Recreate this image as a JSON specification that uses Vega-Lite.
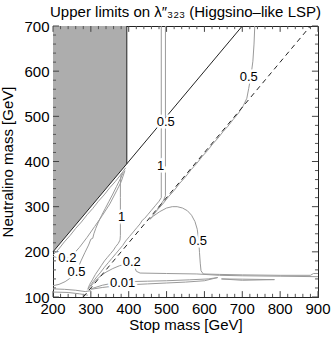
{
"$schema": "https://vega.github.io/schema/vega-lite/v6.json",
"width": 265, "height": 271,
"autosize": {"type": "none"},
"padding": {"left": 53, "top": 26, "right": 14, "bottom": 42},
"title": {"text": "Upper limits on λ″₃₂₃ (Higgsino–like LSP)", "font": "Liberation Sans", "fontSize": 15, "fontWeight": "normal", "color": "#000", "offset": -1, "anchor": "middle"},
"datasets": {
"region": [{"x": 200, "lo": 200, "hi": 700}, {"x": 395, "lo": 395, "hi": 700}],
"xmaj": [{"v":200},{"v":300},{"v":400},{"v":500},{"v":600},{"v":700},{"v":800},{"v":900}],
"xmin": [{"v":220},{"v":240},{"v":260},{"v":280},{"v":320},{"v":340},{"v":360},{"v":380},{"v":420},{"v":440},{"v":460},{"v":480},{"v":520},{"v":540},{"v":560},{"v":580},{"v":620},{"v":640},{"v":660},{"v":680},{"v":720},{"v":740},{"v":760},{"v":780},{"v":820},{"v":840},{"v":860},{"v":880}],
"ymaj": [{"v":100},{"v":200},{"v":300},{"v":400},{"v":500},{"v":600},{"v":700}],
"ymin": [{"v":120},{"v":140},{"v":160},{"v":180},{"v":220},{"v":240},{"v":260},{"v":280},{"v":320},{"v":340},{"v":360},{"v":380},{"v":420},{"v":440},{"v":460},{"v":480},{"v":520},{"v":540},{"v":560},{"v":580},{"v":620},{"v":640},{"v":660},{"v":680}],
"black": [
{"c": "diag", "o": 1, "x": 200, "y": 200}, {"c": "diag", "o": 2, "x": 700, "y": 700},
{"c": "edge", "o": 1, "x": 395, "y": 395}, {"c": "edge", "o": 2, "x": 395, "y": 700}
],
"dashed": [{"c": "d", "o": 1, "x": 280, "y": 100}, {"c": "d", "o": 2, "x": 880, "y": 700}],
"contours": [
{"c":"c05R","o":1,"x":733,"y":700},{"c":"c05R","o":2,"x":731,"y":660},{"c":"c05R","o":3,"x":728,"y":622},{"c":"c05R","o":4,"x":723,"y":590},{"c":"c05R","o":5,"x":717,"y":562},{"c":"c05R","o":6,"x":712,"y":540},{"c":"c05R","o":7,"x":703,"y":524},{"c":"c05R","o":8,"x":690,"y":507},{"c":"c05R","o":9,"x":676,"y":493},{"c":"c05R","o":10,"x":662,"y":478},{"c":"c05R","o":11,"x":650,"y":467},{"c":"c05R","o":12,"x":636,"y":452},{"c":"c05R","o":13,"x":622,"y":439},{"c":"c05R","o":14,"x":608,"y":424},{"c":"c05R","o":15,"x":594,"y":411},{"c":"c05R","o":16,"x":580,"y":396},{"c":"c05R","o":17,"x":565,"y":382},{"c":"c05R","o":18,"x":550,"y":366},{"c":"c05R","o":19,"x":535,"y":352},{"c":"c05R","o":20,"x":520,"y":336},{"c":"c05R","o":21,"x":505,"y":322},{"c":"c05R","o":22,"x":490,"y":306},{"c":"c05R","o":23,"x":475,"y":292},{"c":"c05R","o":24,"x":462,"y":278},{"c":"c05R","o":25,"x":456,"y":272},{"c":"c05R","o":26,"x":465,"y":279},{"c":"c05R","o":27,"x":482,"y":289},{"c":"c05R","o":28,"x":500,"y":297},{"c":"c05R","o":29,"x":515,"y":300},{"c":"c05R","o":30,"x":528,"y":300},{"c":"c05R","o":31,"x":542,"y":297},{"c":"c05R","o":32,"x":555,"y":291},{"c":"c05R","o":33,"x":566,"y":281},{"c":"c05R","o":34,"x":575,"y":267},{"c":"c05R","o":35,"x":581,"y":250},{"c":"c05R","o":36,"x":585,"y":225},{"c":"c05R","o":37,"x":587,"y":198},{"c":"c05R","o":38,"x":589,"y":175},{"c":"c05R","o":39,"x":591,"y":158},{"c":"c05R","o":40,"x":597,"y":151},{"c":"c05R","o":41,"x":640,"y":150},{"c":"c05R","o":42,"x":700,"y":149},{"c":"c05R","o":43,"x":800,"y":148},{"c":"c05R","o":44,"x":880,"y":148},{"c":"c05R","o":45,"x":888,"y":152},{"c":"c05R","o":46,"x":900,"y":152},
{"c":"c1V","o":1,"x":486,"y":700},{"c":"c1V","o":2,"x":486,"y":320},{"c":"c1V","o":3,"x":480,"y":312},{"c":"c1V","o":4,"x":470,"y":302},{"c":"c1V","o":5,"x":460,"y":292},{"c":"c1V","o":6,"x":450,"y":282},{"c":"c1V","o":7,"x":442,"y":274},{"c":"c1V","o":8,"x":436,"y":270},{"c":"c1V","o":9,"x":430,"y":262},{"c":"c1V","o":10,"x":422,"y":254},{"c":"c1V","o":11,"x":412,"y":244},{"c":"c1V","o":12,"x":402,"y":234},{"c":"c1V","o":13,"x":392,"y":224},{"c":"c1V","o":14,"x":384,"y":214},{"c":"c1V","o":15,"x":376,"y":206},{"c":"c1V","o":16,"x":366,"y":196},{"c":"c1V","o":17,"x":356,"y":186},{"c":"c1V","o":18,"x":346,"y":176},{"c":"c1V","o":19,"x":336,"y":166},{"c":"c1V","o":20,"x":326,"y":155},{"c":"c1V","o":21,"x":316,"y":145},{"c":"c1V","o":22,"x":306,"y":134},{"c":"c1V","o":23,"x":298,"y":124},{"c":"c1V","o":24,"x":292,"y":116},
{"c":"c05V","o":1,"x":497,"y":700},{"c":"c05V","o":2,"x":497,"y":324},{"c":"c05V","o":3,"x":492,"y":314},{"c":"c05V","o":4,"x":485,"y":305},{"c":"c05V","o":5,"x":475,"y":294},
{"c":"c1L","o":1,"x":380,"y":373},{"c":"c1L","o":2,"x":378,"y":352},{"c":"c1L","o":3,"x":378,"y":320},{"c":"c1L","o":4,"x":378,"y":290},{"c":"c1L","o":5,"x":378,"y":260},{"c":"c1L","o":6,"x":378,"y":236},{"c":"c1L","o":7,"x":377,"y":226},{"c":"c1L","o":8,"x":372,"y":218},{"c":"c1L","o":9,"x":366,"y":212},{"c":"c1L","o":10,"x":360,"y":204},{"c":"c1L","o":11,"x":352,"y":196},{"c":"c1L","o":12,"x":344,"y":188},{"c":"c1L","o":13,"x":336,"y":180},{"c":"c1L","o":14,"x":328,"y":170},{"c":"c1L","o":15,"x":320,"y":160},{"c":"c1L","o":16,"x":312,"y":150},{"c":"c1L","o":17,"x":304,"y":138},{"c":"c1L","o":18,"x":297,"y":128},{"c":"c1L","o":19,"x":292,"y":118},
{"c":"c05L","o":1,"x":386,"y":376},{"c":"c05L","o":2,"x":378,"y":362},{"c":"c05L","o":3,"x":368,"y":345},{"c":"c05L","o":4,"x":358,"y":328},{"c":"c05L","o":5,"x":348,"y":312},{"c":"c05L","o":6,"x":338,"y":296},{"c":"c05L","o":7,"x":328,"y":280},{"c":"c05L","o":8,"x":320,"y":266},{"c":"c05L","o":9,"x":313,"y":252},{"c":"c05L","o":10,"x":308,"y":240},{"c":"c05L","o":11,"x":305,"y":230},{"c":"c05L","o":12,"x":300,"y":228},{"c":"c05L","o":13,"x":294,"y":215},{"c":"c05L","o":14,"x":284,"y":198},{"c":"c05L","o":15,"x":274,"y":180},{"c":"c05L","o":16,"x":266,"y":164},{"c":"c05L","o":17,"x":258,"y":152},{"c":"c05L","o":18,"x":246,"y":142},{"c":"c05L","o":19,"x":232,"y":134},{"c":"c05L","o":20,"x":216,"y":128},{"c":"c05L","o":21,"x":200,"y":125},
{"c":"c02L","o":1,"x":200,"y":190},{"c":"c02L","o":2,"x":215,"y":186},{"c":"c02L","o":3,"x":238,"y":187},{"c":"c02L","o":4,"x":255,"y":196},{"c":"c02L","o":5,"x":270,"y":210},{"c":"c02L","o":6,"x":290,"y":232},{"c":"c02L","o":7,"x":310,"y":256},{"c":"c02L","o":8,"x":330,"y":280},{"c":"c02L","o":9,"x":350,"y":306},{"c":"c02L","o":10,"x":368,"y":335},{"c":"c02L","o":11,"x":380,"y":355},{"c":"c02L","o":12,"x":390,"y":380},
{"c":"edge","o":1,"x":200,"y":193},{"c":"edge","o":2,"x":215,"y":206},{"c":"edge","o":3,"x":230,"y":222},{"c":"edge","o":4,"x":245,"y":236},{"c":"edge","o":5,"x":260,"y":252},{"c":"edge","o":6,"x":275,"y":266},{"c":"edge","o":7,"x":290,"y":282},{"c":"edge","o":8,"x":305,"y":296},{"c":"edge","o":9,"x":320,"y":312},{"c":"edge","o":10,"x":335,"y":326},{"c":"edge","o":11,"x":350,"y":342},{"c":"edge","o":12,"x":365,"y":356},{"c":"edge","o":13,"x":380,"y":372},{"c":"edge","o":14,"x":392,"y":386},
{"c":"c02B","o":1,"x":300,"y":124},{"c":"c02B","o":2,"x":312,"y":136},{"c":"c02B","o":3,"x":325,"y":146},{"c":"c02B","o":4,"x":340,"y":155},{"c":"c02B","o":5,"x":358,"y":163},{"c":"c02B","o":6,"x":375,"y":169},{"c":"c02B","o":7,"x":392,"y":173},{"c":"c02B","o":8,"x":405,"y":175},{"c":"c02B","o":9,"x":412,"y":174},{"c":"c02B","o":10,"x":416,"y":166},{"c":"c02B","o":11,"x":420,"y":157},{"c":"c02B","o":12,"x":430,"y":153},{"c":"c02B","o":13,"x":500,"y":152},{"c":"c02B","o":14,"x":580,"y":151},{"c":"c02B","o":15,"x":640,"y":148},{"c":"c02B","o":16,"x":700,"y":147},{"c":"c02B","o":17,"x":800,"y":146},{"c":"c02B","o":18,"x":900,"y":145},
{"c":"c001","o":1,"x":300,"y":118},{"c":"c001","o":2,"x":330,"y":126},{"c":"c001","o":3,"x":360,"y":131},{"c":"c001","o":4,"x":400,"y":134},{"c":"c001","o":5,"x":450,"y":135},{"c":"c001","o":6,"x":500,"y":136},{"c":"c001","o":7,"x":560,"y":138},{"c":"c001","o":8,"x":610,"y":140},{"c":"c001","o":9,"x":635,"y":143},{"c":"c001","o":10,"x":600,"y":136},{"c":"c001","o":11,"x":550,"y":133},{"c":"c001","o":12,"x":500,"y":131},{"c":"c001","o":13,"x":450,"y":129},{"c":"c001","o":14,"x":400,"y":127},{"c":"c001","o":15,"x":360,"y":124},{"c":"c001","o":16,"x":330,"y":121},{"c":"c001","o":17,"x":300,"y":117},
{"c":"w2","o":1,"x":645,"y":140},{"c":"w2","o":2,"x":700,"y":139.5},{"c":"w2","o":3,"x":785,"y":138.5},{"c":"w2","o":4,"x":700,"y":137},{"c":"w2","o":5,"x":645,"y":140},
{"c":"b2","o":1,"x":200,"y":118},{"c":"b2","o":2,"x":230,"y":117},{"c":"b2","o":3,"x":260,"y":115},{"c":"b2","o":4,"x":285,"y":112},{"c":"b2","o":5,"x":300,"y":114},
{"c":"b3","o":1,"x":200,"y":111},{"c":"b3","o":2,"x":240,"y":110},{"c":"b3","o":3,"x":270,"y":107},{"c":"b3","o":4,"x":292,"y":104}
],
"labels": [
{"t":"0.5","x":498,"y":488},{"t":"1","x":484,"y":390},{"t":"0.5","x":717,"y":588},{"t":"1","x":381,"y":277},{"t":"0.2","x":238,"y":187},{"t":"0.5","x":262,"y":156},{"t":"0.2","x":408,"y":178},{"t":"0.01","x":384,"y":131},{"t":"0.5","x":583,"y":224}
]
},
"layer": [
{"data": {"name": "region"}, "mark": {"type": "area", "color": "#adadad", "opacity": 1},
 "encoding": {
  "x": {"field": "x", "type": "quantitative", "scale": {"domain": [200, 900], "nice": false, "zero": false},
    "axis": {"title": "Stop mass [GeV]", "values": [200,300,400,500,600,700,800,900], "ticks": false, "labels": false, "titlePadding": 20}},
  "y": {"field": "lo", "type": "quantitative", "scale": {"domain": [100, 700], "nice": false, "zero": false},
    "axis": {"title": "Neutralino mass [GeV]", "values": [100,200,300,400,500,600,700], "ticks": false, "labelOverlap": false, "labelFlush": false, "labelPadding": 4, "titlePadding": 8}},
  "y2": {"field": "hi"}
 }},
{"data": {"name": "xmaj"}, "mark": {"type": "text", "font": "Liberation Sans", "fontSize": 15, "color": "#000", "baseline": "top", "align": "center", "dy": 5},
 "encoding": {"x": {"field": "v", "type": "quantitative"}, "y": {"datum": 100}, "text": {"field": "v", "type": "quantitative"}}},
{"data": {"name": "xmaj"}, "mark": {"type": "rule", "color": "#444", "strokeWidth": 1}, "encoding": {"x": {"field": "v", "type": "quantitative"}, "y": {"datum": 100}, "y2": {"datum": 113}}},
{"data": {"name": "xmaj"}, "mark": {"type": "rule", "color": "#444", "strokeWidth": 1}, "encoding": {"x": {"field": "v", "type": "quantitative"}, "y": {"datum": 700}, "y2": {"datum": 687}}},
{"data": {"name": "xmin"}, "mark": {"type": "rule", "color": "#555", "strokeWidth": 1}, "encoding": {"x": {"field": "v", "type": "quantitative"}, "y": {"datum": 100}, "y2": {"datum": 107}}},
{"data": {"name": "xmin"}, "mark": {"type": "rule", "color": "#555", "strokeWidth": 1}, "encoding": {"x": {"field": "v", "type": "quantitative"}, "y": {"datum": 700}, "y2": {"datum": 693}}},
{"data": {"name": "ymaj"}, "mark": {"type": "rule", "color": "#444", "strokeWidth": 1}, "encoding": {"y": {"field": "v", "type": "quantitative"}, "x": {"datum": 200}, "x2": {"datum": 216}}},
{"data": {"name": "ymaj"}, "mark": {"type": "rule", "color": "#444", "strokeWidth": 1}, "encoding": {"y": {"field": "v", "type": "quantitative"}, "x": {"datum": 900}, "x2": {"datum": 884}}},
{"data": {"name": "ymin"}, "mark": {"type": "rule", "color": "#555", "strokeWidth": 1}, "encoding": {"y": {"field": "v", "type": "quantitative"}, "x": {"datum": 200}, "x2": {"datum": 208}}},
{"data": {"name": "ymin"}, "mark": {"type": "rule", "color": "#555", "strokeWidth": 1}, "encoding": {"y": {"field": "v", "type": "quantitative"}, "x": {"datum": 900}, "x2": {"datum": 892}}},
{"data": {"name": "contours"}, "mark": {"type": "line", "color": "#9a9a9a", "strokeWidth": 1},
 "encoding": {"x": {"field": "x", "type": "quantitative"}, "y": {"field": "y", "type": "quantitative"}, "detail": {"field": "c"}, "order": {"field": "o", "type": "quantitative"}}},
{"data": {"name": "black"}, "mark": {"type": "line", "color": "#222", "strokeWidth": 1},
 "encoding": {"x": {"field": "x", "type": "quantitative"}, "y": {"field": "y", "type": "quantitative"}, "detail": {"field": "c"}, "order": {"field": "o", "type": "quantitative"}}},
{"data": {"name": "dashed"}, "mark": {"type": "line", "color": "#222", "strokeWidth": 1, "strokeDash": [5, 4]},
 "encoding": {"x": {"field": "x", "type": "quantitative"}, "y": {"field": "y", "type": "quantitative"}, "order": {"field": "o", "type": "quantitative"}}},
{"data": {"name": "labels"}, "mark": {"type": "text", "font": "Liberation Sans", "fontSize": 13, "fill": "#fff", "stroke": "#fff", "strokeWidth": 5},
 "encoding": {"x": {"field": "x", "type": "quantitative"}, "y": {"field": "y", "type": "quantitative"}, "text": {"field": "t"}}},
{"data": {"name": "labels"}, "mark": {"type": "text", "font": "Liberation Sans", "fontSize": 13, "color": "#000"},
 "encoding": {"x": {"field": "x", "type": "quantitative"}, "y": {"field": "y", "type": "quantitative"}, "text": {"field": "t"}}}
],
"config": {
 "view": {"stroke": "#222", "strokeWidth": 1},
 "font": "Liberation Sans",
 "axis": {"grid": false, "domainColor": "#222", "labelFont": "Liberation Sans", "titleFont": "Liberation Sans", "labelFontSize": 15, "titleFontSize": 15, "labelColor": "#000", "titleColor": "#000", "titleFontWeight": "normal", "labelFlush": false, "labelOverlap": false}
}
}
